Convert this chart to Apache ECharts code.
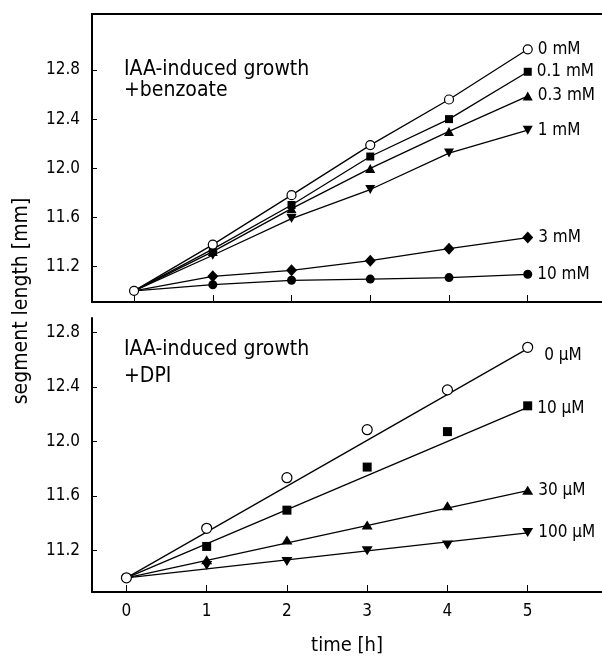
<!DOCTYPE html>
<html><head><meta charset="utf-8">
<script src="https://cdn.jsdelivr.net/npm/echarts@6/dist/echarts.min.js"></script>
<style>html,body{margin:0;padding:0;background:#fff}#c{width:602px;height:657px}</style>
</head><body><div id="c"></div>
<script>
// ---- data ----
const hours = [0, 1, 2, 3, 4, 5];
const yTicks = [11.2, 11.6, 12.0, 12.4, 12.8];
const xTicks = [0, 1, 2, 3, 4, 5];

const benzoateLabels = ['0 mM', '0.1 mM', '0.3 mM', '1 mM', '3 mM', '10 mM'];
const benz_0  = [11.00, 11.377, 11.78, 12.188, 12.56, 12.969];
const benz_01 = [11.00, 11.34, 11.70, 12.095, 12.40, 12.786];
const benz_03 = [11.00, 11.32, 11.67, 11.998, 12.30, 12.588];
const benz_1  = [11.00, 11.29, 11.589, 11.826, 12.123, 12.31];
const benz_3  = [11.00, 11.118, 11.167, 11.246, 11.344, 11.434];
const benz_10 = [11.00, 11.05, 11.086, 11.096, 11.108, 11.135];

const dpiLabels = ['0 µM', '10 µM', '30 µM', '100 µM'];
const dpi_0   = [11.00, 11.363, 11.734, 12.086, 12.378, 12.69];
const dpi_10  = [11.00, 11.23, 11.496, 11.812, 12.072, 12.261];
const dpi_30  = [11.00, 11.132, 11.278, 11.387, 11.528, 11.642];
const dpi_100 = [11.00, 11.091, 11.12, 11.198, 11.241, 11.333];

// regression lines (values at 0 h and 5 h)
const fitHours = [0, 5];
const fit_0   = [11.00, 12.68];
const fit_10  = [11.00, 12.25];
const fit_30  = [11.00, 11.64];
const fit_100 = [11.00, 11.33];

// ---- styling ----
const FONT = "'DejaVu Sans Condensed', 'DejaVu Sans', sans-serif";
const markers = {
  open:   { symbol: 'circle', size: 9, color: '#fff', rotate: 0 },
  square: { symbol: 'rect', size: 8, color: '#000', rotate: 0 },
  triUp:  { symbol: 'triangle', size: [10, 9], color: '#000', rotate: 0 },
  triDn:  { symbol: 'triangle', size: [10, 9], color: '#000', rotate: 180 },
  diam:   { symbol: 'diamond', size: [11, 12], color: '#000', rotate: 0 },
  dot:    { symbol: 'circle', size: 9, color: '#000', rotate: 0 }
};
const markersB = {
  open:   { symbol: 'circle', size: 10, color: '#fff', rotate: 0 },
  square: { symbol: 'rect', size: 9, color: '#000', rotate: 0 },
  triUp:  { symbol: 'triangle', size: [11, 9], color: '#000', rotate: 0 },
  triDn:  { symbol: 'triangle', size: [11, 9], color: '#000', rotate: 180 }
};

function makeData(xs, ys, labelText, labelOffset, hideFirst) {
  return ys.map((y, i) => {
    const item = { value: [xs[i], y] };
    if (hideFirst && i === 0) item.symbol = 'none';
    if (i === ys.length - 1 && labelText) {
      item.label = {
        show: true, position: 'right', distance: 5, offset: labelOffset || [0, 0],
        formatter: labelText, color: '#000', fontFamily: FONT, fontSize: 17
      };
    }
    return item;
  });
}

function topSeries(ys, name, mk, hideFirst, z) {
  return {
    type: 'line', name: name, xAxisIndex: 0, yAxisIndex: 0,
    data: makeData(hours, ys, name, [0, 0], hideFirst),
    symbol: mk.symbol, symbolSize: mk.size, symbolRotate: mk.rotate,
    showSymbol: true, showAllSymbol: true, z: z,
    itemStyle: { color: mk.color, borderColor: '#000', borderWidth: mk.color === '#fff' ? 1.2 : 0 },
    lineStyle: { color: '#000', width: 1.3 }, emphasis: { disabled: true }
  };
}
function fitSeries(ys) {
  return {
    type: 'line', xAxisIndex: 2, yAxisIndex: 1, data: makeData(fitHours, ys),
    symbol: 'none', lineStyle: { color: '#000', width: 1.3 }, z: 2, silent: true
  };
}
function dotSeries(ys, name, mk, offset, hideFirst, z) {
  return {
    type: 'scatter', name: name, xAxisIndex: 2, yAxisIndex: 1,
    data: makeData(hours, ys, name, offset, hideFirst),
    symbol: mk.symbol, symbolSize: mk.size, symbolRotate: mk.rotate, z: z,
    itemStyle: { color: mk.color, borderColor: '#000', borderWidth: mk.color === '#fff' ? 1.2 : 0, opacity: 1 },
    emphasis: { disabled: true }
  };
}

const axisLineStyle = { color: '#000', width: 2 };
function yAxisDef(grid, min, max) {
  return {
    type: 'value', gridIndex: grid, min: min, max: max,
    splitLine: { show: false },
    axisLine: { show: true, onZero: false, lineStyle: axisLineStyle },
    axisTick: { show: true, inside: true, length: 5, customValues: yTicks, lineStyle: { color: '#000', width: 1 } },
    axisLabel: { show: true, customValues: yTicks, margin: 12, color: '#000', fontFamily: FONT, fontSize: 17,
      formatter: v => v.toFixed(1) }
  };
}

const chart = echarts.init(document.getElementById('c'), null, { renderer: 'canvas' });
chart.setOption({
  animation: false,
  backgroundColor: '#fff',
  grid: [
    { left: 92, top: 14, right: 0, bottom: 355 },
    { left: 92, top: 318, right: 0, bottom: 63 }
  ],
  xAxis: [
    { type: 'value', gridIndex: 0, min: -0.534, max: 5.943, position: 'bottom',
      splitLine: { show: false }, axisLine: { show: true, onZero: false, lineStyle: axisLineStyle },
      axisTick: { show: true, inside: true, length: 7, customValues: xTicks, lineStyle: { color: '#000', width: 1 } },
      axisLabel: { show: false } },
    { type: 'value', gridIndex: 0, min: -0.534, max: 5.943, position: 'top',
      splitLine: { show: false }, axisLine: { show: true, onZero: false, lineStyle: axisLineStyle },
      axisTick: { show: false }, axisLabel: { show: false } },
    { type: 'value', gridIndex: 1, min: -0.429, max: 5.926, position: 'bottom',
      splitLine: { show: false }, axisLine: { show: true, onZero: false, lineStyle: axisLineStyle },
      axisTick: { show: true, inside: true, length: 7, customValues: xTicks, lineStyle: { color: '#000', width: 1 } },
      axisLabel: { show: true, customValues: xTicks, margin: 11, color: '#000', fontFamily: FONT, fontSize: 17 },
      name: 'time [h]', nameLocation: 'middle', nameGap: 44,
      nameTextStyle: { color: '#000', fontFamily: FONT, fontSize: 20 } }
  ],
  yAxis: [ yAxisDef(0, 10.909, 13.257), yAxisDef(1, 10.896, 12.905) ],
  graphic: [
    { type: 'text', x: 21.5, y: 301, rotation: Math.PI / 2,
      style: { text: 'segment length [mm]', fill: '#000', font: "21px 'DejaVu Sans Condensed', sans-serif",
        align: 'center', verticalAlign: 'middle' } },
    { type: 'text', x: 124, y: 59,
      style: { text: 'IAA-induced growth\n+benzoate', fill: '#000', font: "21px 'DejaVu Sans Condensed', sans-serif",
        lineHeight: 21, align: 'left', verticalAlign: 'top' } },
    { type: 'text', x: 124, y: 336,
      style: { text: 'IAA-induced growth\n+DPI', fill: '#000', font: "21px 'DejaVu Sans Condensed', sans-serif",
        lineHeight: 27, align: 'left', verticalAlign: 'top' } }
  ],
  series: [
    topSeries(benz_10, benzoateLabels[5], markers.dot, true, 3),
    topSeries(benz_3, benzoateLabels[4], markers.diam, true, 3),
    topSeries(benz_1, benzoateLabels[3], markers.triDn, true, 3),
    topSeries(benz_03, benzoateLabels[2], markers.triUp, true, 3),
    topSeries(benz_01, benzoateLabels[1], markers.square, true, 3),
    topSeries(benz_0, benzoateLabels[0], markers.open, false, 4),
    fitSeries(fit_0), fitSeries(fit_10), fitSeries(fit_30), fitSeries(fit_100),
    dotSeries(dpi_100, dpiLabels[3], markersB.triDn, [0, 0], true, 3),
    dotSeries(dpi_30, dpiLabels[2], markersB.triUp, [0, 0], true, 3),
    dotSeries(dpi_10, dpiLabels[1], markersB.square, [0, 3], true, 3),
    dotSeries(dpi_0, dpiLabels[0], markersB.open, [6, 8], false, 4)
  ]
});
</script></body></html>
